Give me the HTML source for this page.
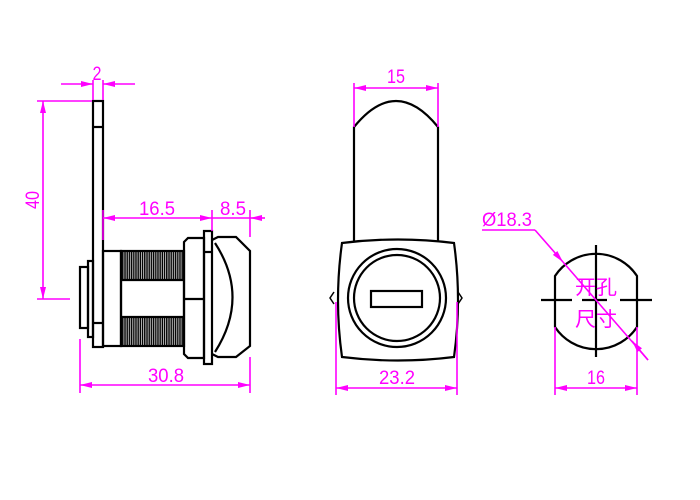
<!DOCTYPE html>
<html><head><meta charset="utf-8"><style>
html,body{margin:0;padding:0;background:#fff;width:700px;height:500px;overflow:hidden}
svg{display:block}
.t{font-family:"Liberation Sans","Noto Sans CJK SC",sans-serif;fill:#ff00ff;font-size:19px}
</style></head><body>
<svg width="700" height="500" viewBox="0 0 700 500" xmlns="http://www.w3.org/2000/svg">
<defs>
<marker id="a" viewBox="0 0 12 6" refX="12" refY="3" markerWidth="12" markerHeight="6" orient="auto-start-reverse" markerUnits="userSpaceOnUse"><path d="M0,0 L12,3 L0,6 z" fill="#ff00ff"/></marker>
<pattern id="th" x="122" y="0" width="4.4" height="30" patternUnits="userSpaceOnUse">
<path d="M0.8,0 L0.8,30 M3,0 L3,30" stroke="#000" stroke-width="1.5"/>
</pattern>
</defs>
<g fill="none" stroke="#000" stroke-width="2.2">
<rect x="93" y="101" width="10" height="246"/>
<line x1="93" y1="127" x2="103" y2="127"/>
<line x1="93" y1="323" x2="103" y2="323"/>
<rect x="80" y="267" width="8" height="61"/>
<rect x="88" y="261" width="5" height="76"/>
<rect x="103" y="251" width="18" height="95"/>
<rect x="121" y="251" width="63" height="95"/>
<rect x="122" y="252" width="62" height="28" fill="url(#th)" stroke="none"/>
<rect x="122" y="318" width="62" height="27" fill="url(#th)" stroke="none"/>
<line x1="121" y1="280" x2="184" y2="280"/>
<line x1="121" y1="317" x2="184" y2="317"/>
<path d="M184,242 L188,238 L204,238 L204,358 L188,358 L184,354 Z"/>
<line x1="184" y1="299" x2="204" y2="299"/>
<rect x="204" y="231" width="8" height="133"/>
<line x1="212" y1="252" x2="204" y2="252"/>
<path d="M212,240 L218,237 L236,237 L250,251 L250,346 L236,357 L218,357 L212,354"/>
<path d="M215,243 Q250,297 215,352"/>
<path d="M354,242 L354,127 Q396,75 438,127 L438,242"/>
<path d="M342,243 Q398,236 454,243 Q462,300 454,357 Q398,364 342,357 Q334,300 342,243 Z"/>
<path d="M334,292 L330,298 L334,304 M458,292 L462,298 L458,304" stroke-width="1.5"/>
<circle cx="397" cy="298" r="49"/>
<circle cx="397" cy="298" r="43"/>
<rect x="371" y="291" width="51" height="16"/>
<path d="M555,276 A49,49 0 0 1 637,276 L637,327 A49,49 0 0 1 555,327 Z"/>
<path d="M541,300 L572,300 M582,300 L607,300 M620,300 L652,300 M596,245 L596,357"/>
</g>
<g stroke="#ff00ff" stroke-width="1.6" fill="none">
<line x1="61" y1="84" x2="93" y2="84" marker-end="url(#a)"/>
<line x1="135" y1="84" x2="103" y2="84" marker-end="url(#a)"/>
<line x1="93" y1="80" x2="93" y2="100"/>
<line x1="103" y1="80" x2="103" y2="100"/>
<line x1="37" y1="101" x2="92" y2="101"/>
<line x1="37" y1="299" x2="70" y2="299"/>
<line x1="43" y1="101" x2="43" y2="299" marker-start="url(#a)" marker-end="url(#a)"/>
<line x1="103" y1="218" x2="212" y2="218" marker-start="url(#a)" marker-end="url(#a)"/>
<line x1="212" y1="218" x2="250" y2="218"/>
<line x1="265" y1="218" x2="250" y2="218" marker-end="url(#a)"/>
<line x1="212" y1="210" x2="212" y2="231"/>
<line x1="250" y1="210" x2="250" y2="237"/>
<line x1="103" y1="210" x2="103" y2="240"/>
<line x1="80" y1="339" x2="80" y2="393"/>
<line x1="250" y1="357" x2="250" y2="393"/>
<line x1="80" y1="385" x2="250" y2="385" marker-start="url(#a)" marker-end="url(#a)"/>
<line x1="354" y1="83" x2="354" y2="127"/>
<line x1="438" y1="83" x2="438" y2="127"/>
<line x1="354" y1="88" x2="438" y2="88" marker-start="url(#a)" marker-end="url(#a)"/>
<line x1="336" y1="302" x2="336" y2="395"/>
<line x1="457" y1="302" x2="457" y2="395"/>
<line x1="336" y1="388" x2="457" y2="388" marker-start="url(#a)" marker-end="url(#a)"/>
<line x1="555" y1="327" x2="555" y2="395"/>
<line x1="637" y1="327" x2="637" y2="395"/>
<line x1="555" y1="388" x2="637" y2="388" marker-start="url(#a)" marker-end="url(#a)"/>
<line x1="482" y1="230" x2="535" y2="230"/>
<line x1="535" y1="230" x2="563" y2="262" marker-end="url(#a)"/>
<line x1="563" y1="262" x2="648" y2="360"/>
<line x1="648" y1="360" x2="632" y2="341" marker-end="url(#a)"/>
</g>
<g class="t">
<text x="97" y="80" text-anchor="middle" textLength="9" lengthAdjust="spacingAndGlyphs">2</text>
<text x="0" y="0" text-anchor="middle" transform="translate(39,200) rotate(-90)" textLength="18" lengthAdjust="spacingAndGlyphs">40</text>
<text x="157" y="215" text-anchor="middle" textLength="36" lengthAdjust="spacingAndGlyphs">16.5</text>
<text x="233" y="215" text-anchor="middle" textLength="26" lengthAdjust="spacingAndGlyphs">8.5</text>
<text x="166" y="382" text-anchor="middle" textLength="36" lengthAdjust="spacingAndGlyphs">30.8</text>
<text x="396" y="83" text-anchor="middle" textLength="18" lengthAdjust="spacingAndGlyphs">15</text>
<text x="397" y="384" text-anchor="middle" textLength="36" lengthAdjust="spacingAndGlyphs">23.2</text>
<text x="596" y="384" text-anchor="middle" textLength="18" lengthAdjust="spacingAndGlyphs">16</text>
<text x="482" y="226" textLength="50" lengthAdjust="spacingAndGlyphs">Ø18.3</text>
<text x="575" y="294" textLength="42" lengthAdjust="spacingAndGlyphs" font-size="20">开孔</text>
<text x="575" y="326" textLength="42" lengthAdjust="spacingAndGlyphs" font-size="20">尺寸</text>
</g>
</svg>
</body></html>
